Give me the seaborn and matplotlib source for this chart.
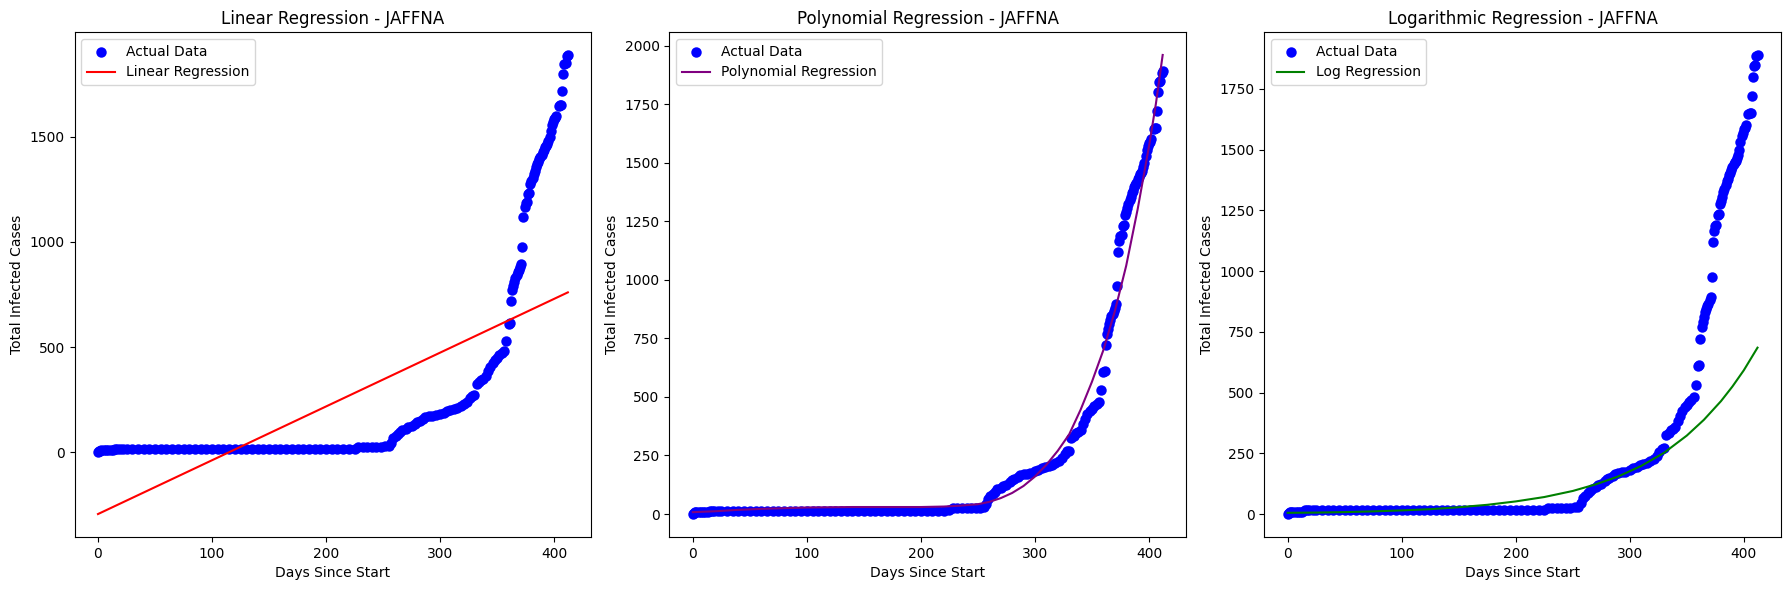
import matplotlib
matplotlib.use('Agg')
import matplotlib.pyplot as plt
import seaborn as sns

# values
early_days = [0, 1, 2, 3, 5, 7, 9, 11, 13, 15, 17, 19, 22]
early_cases = [0, 5, 7, 8, 8, 8, 8, 9, 9, 15, 15, 15, 15]

flat_days = [25, 30, 35, 40, 45, 50, 55, 60, 65, 70, 75, 80, 85, 90, 95, 100, 105, 110, 115, 120,
             125, 130, 135, 140, 145, 150, 155, 160, 165, 170, 175, 180, 185, 190, 195, 200, 205,
             210, 215, 220, 225, 228, 232, 236, 240, 244, 248, 252, 255]
flat_cases = [15, 15, 15, 15, 15, 15, 15, 15, 15, 15, 15, 15, 15, 15, 15, 15, 15, 15, 15, 15,
              15, 15, 15, 15, 15, 15, 15, 15, 15, 15, 15, 15, 15, 15, 15, 15, 15,
              15, 15, 15, 16, 25, 25, 25, 25, 25, 26, 27, 30]

rise_days = [257, 259, 261, 263, 265, 267, 270, 272, 275, 278, 280, 282, 285, 287, 290, 293, 296,
             300, 303, 306, 309, 312, 315, 318, 321, 324, 326, 328, 330, 332, 334, 336, 338, 340,
             342, 344, 346, 348, 350, 352, 354, 356, 358, 360, 361, 362, 363, 364, 365, 366, 367,
             368, 369, 370, 371, 372, 373, 374, 375, 376, 377, 378, 379, 380, 381, 382, 383, 384,
             385, 386, 387, 388, 389, 390, 391, 392, 393, 394, 395, 396, 397, 398, 399, 400, 401,
             402, 404, 405, 406, 407, 408, 409, 410, 411, 412]
rise_cases = [45, 65, 75, 85, 95, 105, 112, 118, 122, 135, 145, 150, 158, 165, 170, 172, 175,
              182, 188, 195, 202, 206, 210, 218, 228, 240, 255, 268, 270, 325, 335, 345, 350, 360,
              385, 405, 425, 440, 450, 460, 470, 480, 530, 608, 612, 720, 770, 790, 810, 830, 845,
              855, 865, 880, 895, 975, 1120, 1165, 1185, 1190, 1230, 1235, 1275, 1290, 1305, 1325,
              1340, 1355, 1370, 1380, 1395, 1405, 1415, 1430, 1440, 1450, 1455, 1465, 1480, 1500,
              1530, 1555, 1570, 1585, 1590, 1600, 1645, 1650, 1650, 1720, 1800, 1845, 1850, 1885,
              1890]

days = early_days + flat_days + rise_days
cases = early_cases + flat_cases + rise_cases

linear_days = [0, 412]
linear_fit = [-295, 760]

poly_days = [0, 20, 40, 60, 80, 100, 120, 140, 160, 180, 200, 220, 235, 250, 260, 270, 280, 290, 300,
             310, 320, 330, 340, 350, 360, 370, 380, 390, 400, 406, 412]
poly_fit = [8, 12, 18, 22, 25, 28, 29, 30, 30, 30, 30, 32, 36, 42, 52, 68, 90, 120, 160,
            210, 270, 340, 445, 565, 700, 865, 1060, 1300, 1570, 1750, 1960]

log_days = [0, 25, 50, 75, 100, 125, 150, 175, 200, 225, 250, 270, 290, 310, 330, 350, 365, 380, 390,
            400, 412]
log_fit = [5, 6, 8, 11, 15, 20, 28, 38, 52, 70, 95, 122, 155, 198, 252, 323, 388, 465, 525, 592, 685]

panels = [
    ('Linear Regression - JAFFNA', 'Linear Regression', 'red', linear_days, linear_fit),
    ('Polynomial Regression - JAFFNA', 'Polynomial Regression', 'purple', poly_days, poly_fit),
    ('Logarithmic Regression - JAFFNA', 'Log Regression', 'green', log_days, log_fit),
]

fig, axes = plt.subplots(1, 3, figsize=(17.89, 5.90), dpi=100)
fig.subplots_adjust(left=74.5 / 1789, right=1781 / 1789, top=1 - 32 / 590, bottom=1 - 537 / 590,
                    wspace=78 / 517)

for ax, (title, name, colour, fit_x, fit_y) in zip(axes, panels):
    sns.scatterplot(x=days, y=cases, color='blue', s=36, linewidth=1.5, edgecolor='blue',
                    label='Actual Data', ax=ax)
    sns.lineplot(x=fit_x, y=fit_y, color=colour, label=name, estimator=None, ax=ax)
    ax.set_title(title)
    ax.set_xlabel('Days Since Start')
    ax.set_ylabel('Total Infected Cases')
    ax.legend(loc='upper left')

fig.savefig('out.png', dpi=100)
